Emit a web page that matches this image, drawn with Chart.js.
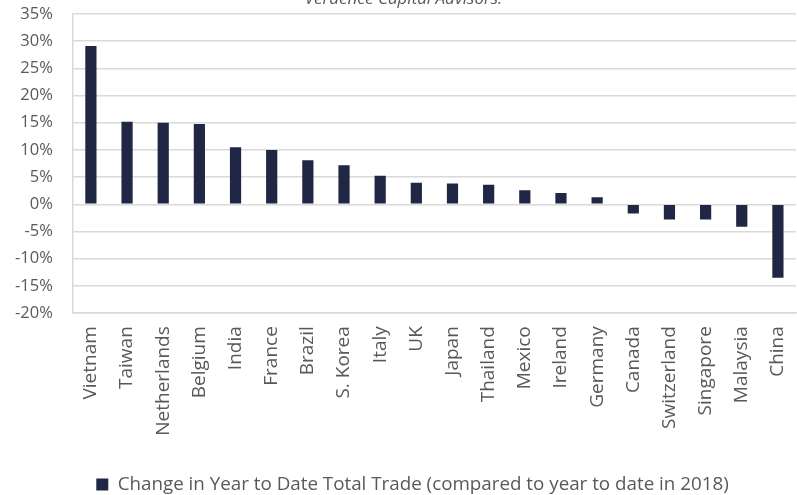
<!DOCTYPE html>
<html lang="en">
<head>
    <meta charset="UTF-8">
    <title>Trade change</title>
    <script src="https://cdn.jsdelivr.net/npm/chart.js"></script>
    <style>
        html, body { margin: 0; padding: 0; background: #fff; overflow: hidden; }
        #wrap { position: absolute; left: 0; top: -16px; width: 797px; height: 520px; }
    </style>
</head>
<body>
    <div id="wrap">
        <canvas id="myChart"></canvas>
    </div>

    <script>
        // countries, sorted as in the source
        const countries = ['Vietnam', 'Taiwan', 'Netherlands', 'Belgium', 'India', 'France', 'Brazil',
            'S. Korea', 'Italy', 'UK', 'Japan', 'Thailand', 'Mexico', 'Ireland', 'Germany',
            'Canada', 'Switzerland', 'Singapore', 'Malaysia', 'China'];
        // change in YTD total trade, percent
        const tradeChange = [29.1, 15.2, 15.0, 14.75, 10.5, 10.0, 8.1, 7.2, 5.25, 3.95, 3.85, 3.6,
            2.6, 2.1, 1.3, -1.7, -2.8, -2.8, -4.1, -13.5];
        const seriesLabel = 'Change in Year to Date Total Trade (compared to year to date in 2018)';
        const titleText = 'Verdence Capital Advisors.';

        const font = "'Open Sans', sans-serif";
        const textColor = '#595959';

        // legend in the source sits a little right of centre
        const legendShift = {
            id: 'legendShift',
            afterLayout(chart) {
                chart.legend.left += 34;
            }
        };

        // the source title is cropped at the top edge, so draw it by hand
        const croppedTitle = {
            id: 'croppedTitle',
            afterDraw(chart) {
                const ctx = chart.ctx;
                ctx.save();
                ctx.font = "italic 17px 'Open Sans', sans-serif";
                ctx.fillStyle = textColor;
                ctx.textAlign = 'center';
                ctx.textBaseline = 'alphabetic';
                ctx.fillText(titleText, chart.width / 2 + 5, 20);
                ctx.restore();
            }
        };

        const data = {
            labels: countries,
            datasets: [{
                label: seriesLabel,
                data: tradeChange,
                backgroundColor: '#1f2744',
                borderColor: '#1f2744',
                borderWidth: 0,
                categoryPercentage: 1.0,
                barPercentage: 0.31
            }]
        };

        const config = {
            type: 'bar',
            data: data,
            plugins: [legendShift, croppedTitle],
            options: {
                responsive: true,
                maintainAspectRatio: false,
                animation: false,
                layout: {
                    padding: { top: 3, left: -5, right: 1, bottom: 0 }
                },
                plugins: {
                    title: { display: false },
                    legend: {
                        position: 'bottom',
                        labels: {
                            color: textColor,
                            font: { family: font, size: 18.8 },
                            boxWidth: 12,
                            boxHeight: 12,
                            padding: 2
                        }
                    },
                    tooltip: { enabled: false }
                },
                scales: {
                    x: {
                        grid: { display: false, drawTicks: false },
                        border: { color: '#d9d9d9', width: 1.5 },
                        afterFit: scale => {
                            scale.height = 160;
                            scale.paddingLeft = 0;
                            scale.paddingRight = 0;
                        },
                        ticks: {
                            color: textColor,
                            font: { family: font, size: 19 },
                            maxRotation: 90,
                            minRotation: 90,
                            autoSkip: false,
                            padding: 13
                        }
                    },
                    y: {
                        min: -20,
                        max: 35,
                        grid: { color: '#d9d9d9', lineWidth: 1.5, drawTicks: false },
                        border: { color: '#d9d9d9', width: 1.5 },
                        ticks: {
                            stepSize: 5,
                            color: textColor,
                            font: { family: font, size: 16.5 },
                            padding: 20,
                            callback: v => v + '%'
                        }
                    }
                }
            }
        };

        new Chart(document.getElementById('myChart'), config);
    </script>
</body>
</html>
